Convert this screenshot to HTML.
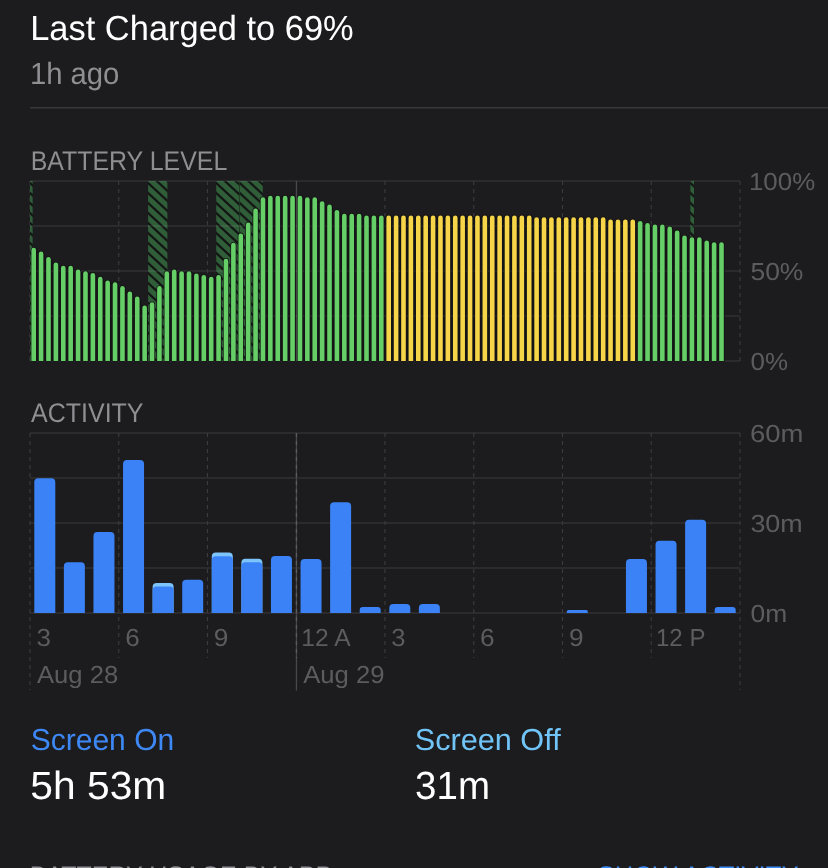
<!DOCTYPE html>
<html><head><meta charset="utf-8"><title>Battery</title>
<style>
html,body{margin:0;padding:0;background:#1c1c1e;}
body{width:828px;height:868px;position:relative;overflow:hidden;font-family:"Liberation Sans",sans-serif;}
svg{position:absolute;left:0;top:0;}
svg text{font-family:"Liberation Sans",sans-serif;white-space:pre;text-rendering:geometricPrecision;}
</style></head><body>
<svg width="828" height="868" viewBox="0 0 828 868">
<defs>
<pattern id="hatch" width="10.8" height="10" patternUnits="userSpaceOnUse" x="0" y="2">
<rect width="10.8" height="10" fill="#2f5e38"/>
<path d="M-5.4 -5L16.2 15M-5.4 5L5.4 15M5.4 -5L16.2 5" stroke="#121313" stroke-width="2.2"/>
</pattern>
</defs>
<rect x="30" y="107" width="798" height="1.5" fill="#38383a"/>
<!-- battery grid -->
<rect x="30" y="180.25" width="710" height="1.5" fill="#303033"/>
<rect x="30" y="225.25" width="710" height="1.5" fill="#303033"/>
<rect x="30" y="270.25" width="710" height="1.5" fill="#303033"/>
<rect x="30" y="315.25" width="710" height="1.5" fill="#303033"/>
<rect x="30" y="360.25" width="710" height="1.5" fill="#303033"/>
<line x1="30.0" y1="181" x2="30.0" y2="361" stroke="#3b3b3f" stroke-width="1.15" stroke-dasharray="4 4"/>
<line x1="118.75" y1="181" x2="118.75" y2="361" stroke="#3b3b3f" stroke-width="1.15" stroke-dasharray="4 4"/>
<line x1="207.5" y1="181" x2="207.5" y2="361" stroke="#3b3b3f" stroke-width="1.15" stroke-dasharray="4 4"/>
<line x1="385.0" y1="181" x2="385.0" y2="361" stroke="#3b3b3f" stroke-width="1.15" stroke-dasharray="4 4"/>
<line x1="473.75" y1="181" x2="473.75" y2="361" stroke="#3b3b3f" stroke-width="1.15" stroke-dasharray="4 4"/>
<line x1="562.5" y1="181" x2="562.5" y2="361" stroke="#3b3b3f" stroke-width="1.15" stroke-dasharray="4 4"/>
<line x1="651.25" y1="181" x2="651.25" y2="361" stroke="#3b3b3f" stroke-width="1.15" stroke-dasharray="4 4"/>
<line x1="740.0" y1="181" x2="740.0" y2="361" stroke="#3b3b3f" stroke-width="1.15" stroke-dasharray="4 4"/>
<path d="M30.50 361 L30.50 248.80 L36.90 248.80 L37.89 252.50 L44.29 252.50 L45.29 258.00 L51.69 258.00 L52.69 263.50 L59.09 263.50 L60.08 266.80 L66.48 266.80 L67.48 266.80 L73.88 266.80 L74.87 270.50 L81.27 270.50 L82.27 272.20 L88.67 272.20 L89.66 274.00 L96.06 274.00 L97.06 277.70 L103.46 277.70 L104.46 281.40 L110.86 281.40 L111.85 283.20 L118.25 283.20 L119.25 286.90 L125.65 286.90 L126.64 292.40 L133.04 292.40 L134.04 297.40 L140.44 297.40 L141.44 306.60 L147.84 306.60 L148.83 303.30 L155.23 303.30 L156.23 287.10 L162.63 287.10 L163.62 272.20 L170.02 272.20 L171.02 270.50 L177.42 270.50 L178.41 272.20 L184.81 272.20 L185.81 272.20 L192.21 272.20 L193.21 274.40 L199.61 274.40 L200.60 276.00 L207.00 276.00 L208.00 277.70 L214.40 277.70 L215.39 276.00 L221.79 276.00 L222.79 259.80 L229.19 259.80 L230.19 243.80 L236.59 243.80 L237.58 234.40 L243.98 234.40 L244.98 223.60 L251.38 223.60 L252.37 209.40 L258.77 209.40 L259.77 198.20 L266.17 198.20 L267.16 196.70 L273.56 196.70 L274.56 196.70 L280.96 196.70 L281.96 196.70 L288.36 196.70 L289.35 196.70 L295.75 196.70 L296.75 196.70 L303.15 196.70 L304.14 198.20 L310.54 198.20 L311.54 198.20 L317.94 198.20 L318.94 202.20 L325.34 202.20 L326.33 205.50 L332.73 205.50 L333.73 210.90 L340.13 210.90 L341.12 214.70 L347.52 214.70 L348.52 214.70 L354.92 214.70 L355.91 214.70 L362.31 214.70 L363.31 216.40 L369.71 216.40 L370.71 216.40 L377.11 216.40 L378.10 216.40 L384.50 216.40 L385.50 216.40 L391.90 216.40 L392.89 216.40 L399.29 216.40 L400.29 216.40 L406.69 216.40 L407.69 216.40 L414.09 216.40 L415.08 216.40 L421.48 216.40 L422.48 216.40 L428.88 216.40 L429.87 216.40 L436.27 216.40 L437.27 216.40 L443.67 216.40 L444.66 216.40 L451.06 216.40 L452.06 216.40 L458.46 216.40 L459.46 216.40 L465.86 216.40 L466.85 216.40 L473.25 216.40 L474.25 216.40 L480.65 216.40 L481.64 216.40 L488.04 216.40 L489.04 216.40 L495.44 216.40 L496.44 216.40 L502.84 216.40 L503.83 216.40 L510.23 216.40 L511.23 216.40 L517.63 216.40 L518.62 216.40 L525.02 216.40 L526.02 216.40 L532.42 216.40 L533.41 218.20 L539.81 218.20 L540.81 218.20 L547.21 218.20 L548.21 218.20 L554.61 218.20 L555.60 218.20 L562.00 218.20 L563.00 218.20 L569.40 218.20 L570.39 218.20 L576.79 218.20 L577.79 218.20 L584.19 218.20 L585.19 218.20 L591.59 218.20 L592.58 218.20 L598.98 218.20 L599.98 218.20 L606.38 218.20 L607.37 220.40 L613.77 220.40 L614.77 220.40 L621.17 220.40 L622.16 220.40 L628.56 220.40 L629.56 220.40 L635.96 220.40 L636.96 222.00 L643.36 222.00 L644.35 224.00 L650.75 224.00 L651.75 225.60 L658.15 225.60 L659.14 225.60 L665.54 225.60 L666.54 227.40 L672.94 227.40 L673.94 231.40 L680.34 231.40 L681.33 236.50 L687.73 236.50 L688.73 238.30 L695.13 238.30 L696.12 238.30 L702.52 238.30 L703.52 241.50 L709.92 241.50 L710.91 243.30 L717.31 243.30 L718.31 243.30 L724.71 243.30 L724.71 361z" fill="#151517"/>
<rect x="295.8" y="181" width="1.3" height="180" fill="#4a4a4d"/>
<!-- charging -->
<g transform="translate(30 181)"><rect width="2.6" height="180" fill="url(#hatch)"/></g>
<g transform="translate(148.1 181)"><rect width="19.3" height="180" fill="url(#hatch)"/></g>
<g transform="translate(216.2 181)"><rect width="23.3" height="180" fill="url(#hatch)"/></g>
<g transform="translate(239.7 181)"><rect width="23.1" height="180" fill="url(#hatch)"/></g>
<rect x="239.3" y="181" width="0.7" height="180" fill="#1d3a23"/>
<g transform="translate(690.4 181)"><rect width="3.6" height="180" fill="url(#hatch)"/></g>
<clipPath id="ov"><path d="M30.50 361 L30.50 248.80 L36.90 248.80 L37.89 252.50 L44.29 252.50 L45.29 258.00 L51.69 258.00 L52.69 263.50 L59.09 263.50 L60.08 266.80 L66.48 266.80 L67.48 266.80 L73.88 266.80 L74.87 270.50 L81.27 270.50 L82.27 272.20 L88.67 272.20 L89.66 274.00 L96.06 274.00 L97.06 277.70 L103.46 277.70 L104.46 281.40 L110.86 281.40 L111.85 283.20 L118.25 283.20 L119.25 286.90 L125.65 286.90 L126.64 292.40 L133.04 292.40 L134.04 297.40 L140.44 297.40 L141.44 306.60 L147.84 306.60 L148.83 303.30 L155.23 303.30 L156.23 287.10 L162.63 287.10 L163.62 272.20 L170.02 272.20 L171.02 270.50 L177.42 270.50 L178.41 272.20 L184.81 272.20 L185.81 272.20 L192.21 272.20 L193.21 274.40 L199.61 274.40 L200.60 276.00 L207.00 276.00 L208.00 277.70 L214.40 277.70 L215.39 276.00 L221.79 276.00 L222.79 259.80 L229.19 259.80 L230.19 243.80 L236.59 243.80 L237.58 234.40 L243.98 234.40 L244.98 223.60 L251.38 223.60 L252.37 209.40 L258.77 209.40 L259.77 198.20 L266.17 198.20 L267.16 196.70 L273.56 196.70 L274.56 196.70 L280.96 196.70 L281.96 196.70 L288.36 196.70 L289.35 196.70 L295.75 196.70 L296.75 196.70 L303.15 196.70 L304.14 198.20 L310.54 198.20 L311.54 198.20 L317.94 198.20 L318.94 202.20 L325.34 202.20 L326.33 205.50 L332.73 205.50 L333.73 210.90 L340.13 210.90 L341.12 214.70 L347.52 214.70 L348.52 214.70 L354.92 214.70 L355.91 214.70 L362.31 214.70 L363.31 216.40 L369.71 216.40 L370.71 216.40 L377.11 216.40 L378.10 216.40 L384.50 216.40 L385.50 216.40 L391.90 216.40 L392.89 216.40 L399.29 216.40 L400.29 216.40 L406.69 216.40 L407.69 216.40 L414.09 216.40 L415.08 216.40 L421.48 216.40 L422.48 216.40 L428.88 216.40 L429.87 216.40 L436.27 216.40 L437.27 216.40 L443.67 216.40 L444.66 216.40 L451.06 216.40 L452.06 216.40 L458.46 216.40 L459.46 216.40 L465.86 216.40 L466.85 216.40 L473.25 216.40 L474.25 216.40 L480.65 216.40 L481.64 216.40 L488.04 216.40 L489.04 216.40 L495.44 216.40 L496.44 216.40 L502.84 216.40 L503.83 216.40 L510.23 216.40 L511.23 216.40 L517.63 216.40 L518.62 216.40 L525.02 216.40 L526.02 216.40 L532.42 216.40 L533.41 218.20 L539.81 218.20 L540.81 218.20 L547.21 218.20 L548.21 218.20 L554.61 218.20 L555.60 218.20 L562.00 218.20 L563.00 218.20 L569.40 218.20 L570.39 218.20 L576.79 218.20 L577.79 218.20 L584.19 218.20 L585.19 218.20 L591.59 218.20 L592.58 218.20 L598.98 218.20 L599.98 218.20 L606.38 218.20 L607.37 220.40 L613.77 220.40 L614.77 220.40 L621.17 220.40 L622.16 220.40 L628.56 220.40 L629.56 220.40 L635.96 220.40 L636.96 222.00 L643.36 222.00 L644.35 224.00 L650.75 224.00 L651.75 225.60 L658.15 225.60 L659.14 225.60 L665.54 225.60 L666.54 227.40 L672.94 227.40 L673.94 231.40 L680.34 231.40 L681.33 236.50 L687.73 236.50 L688.73 238.30 L695.13 238.30 L696.12 238.30 L702.52 238.30 L703.52 241.50 L709.92 241.50 L710.91 243.30 L717.31 243.30 L718.31 243.30 L724.71 243.30 L724.71 361z"/><rect x="30" y="181" width="2.6" height="180"/><rect x="148.1" y="181" width="19.3" height="180"/><rect x="216.2" y="181" width="46.6" height="180"/><rect x="690.4" y="181" width="3.6" height="180"/></clipPath>
<g fill="#ffffff" fill-opacity="0.09" clip-path="url(#ov)"><rect x="30" y="180.25" width="710" height="1.5"/><rect x="30" y="225.25" width="710" height="1.5"/><rect x="30" y="270.25" width="710" height="1.5"/><rect x="30" y="315.25" width="710" height="1.5"/></g>
<g fill="none" stroke="#141416" stroke-width="1.5"><path d="M31.40 361V250.10a2.30 2.30 0 0 1 4.60 0V361z"/>
<path d="M38.79 361V253.80a2.30 2.30 0 0 1 4.60 0V361z"/>
<path d="M46.19 361V259.30a2.30 2.30 0 0 1 4.60 0V361z"/>
<path d="M53.59 361V264.80a2.30 2.30 0 0 1 4.60 0V361z"/>
<path d="M60.98 361V268.10a2.30 2.30 0 0 1 4.60 0V361z"/>
<path d="M68.38 361V268.10a2.30 2.30 0 0 1 4.60 0V361z"/>
<path d="M75.77 361V271.80a2.30 2.30 0 0 1 4.60 0V361z"/>
<path d="M83.17 361V273.50a2.30 2.30 0 0 1 4.60 0V361z"/>
<path d="M90.56 361V275.30a2.30 2.30 0 0 1 4.60 0V361z"/>
<path d="M97.96 361V279.00a2.30 2.30 0 0 1 4.60 0V361z"/>
<path d="M105.36 361V282.70a2.30 2.30 0 0 1 4.60 0V361z"/>
<path d="M112.75 361V284.50a2.30 2.30 0 0 1 4.60 0V361z"/>
<path d="M120.15 361V288.20a2.30 2.30 0 0 1 4.60 0V361z"/>
<path d="M127.54 361V293.70a2.30 2.30 0 0 1 4.60 0V361z"/>
<path d="M134.94 361V298.70a2.30 2.30 0 0 1 4.60 0V361z"/>
<path d="M142.34 361V307.90a2.30 2.30 0 0 1 4.60 0V361z"/>
<path d="M149.73 361V304.60a2.30 2.30 0 0 1 4.60 0V361z"/>
<path d="M157.13 361V288.40a2.30 2.30 0 0 1 4.60 0V361z"/>
<path d="M164.52 361V273.50a2.30 2.30 0 0 1 4.60 0V361z"/>
<path d="M171.92 361V271.80a2.30 2.30 0 0 1 4.60 0V361z"/>
<path d="M179.31 361V273.50a2.30 2.30 0 0 1 4.60 0V361z"/>
<path d="M186.71 361V273.50a2.30 2.30 0 0 1 4.60 0V361z"/>
<path d="M194.11 361V275.70a2.30 2.30 0 0 1 4.60 0V361z"/>
<path d="M201.50 361V277.30a2.30 2.30 0 0 1 4.60 0V361z"/>
<path d="M208.90 361V279.00a2.30 2.30 0 0 1 4.60 0V361z"/>
<path d="M216.29 361V277.30a2.30 2.30 0 0 1 4.60 0V361z"/>
<path d="M223.69 361V261.10a2.30 2.30 0 0 1 4.60 0V361z"/>
<path d="M231.09 361V245.10a2.30 2.30 0 0 1 4.60 0V361z"/>
<path d="M238.48 361V235.70a2.30 2.30 0 0 1 4.60 0V361z"/>
<path d="M245.88 361V224.90a2.30 2.30 0 0 1 4.60 0V361z"/>
<path d="M253.27 361V210.70a2.30 2.30 0 0 1 4.60 0V361z"/>
<path d="M260.67 361V199.50a2.30 2.30 0 0 1 4.60 0V361z"/>
<path d="M268.06 361V198.00a2.30 2.30 0 0 1 4.60 0V361z"/>
<path d="M275.46 361V198.00a2.30 2.30 0 0 1 4.60 0V361z"/>
<path d="M282.86 361V198.00a2.30 2.30 0 0 1 4.60 0V361z"/>
<path d="M290.25 361V198.00a2.30 2.30 0 0 1 4.60 0V361z"/>
<path d="M297.65 361V198.00a2.30 2.30 0 0 1 4.60 0V361z"/>
<path d="M305.04 361V199.50a2.30 2.30 0 0 1 4.60 0V361z"/>
<path d="M312.44 361V199.50a2.30 2.30 0 0 1 4.60 0V361z"/>
<path d="M319.84 361V203.50a2.30 2.30 0 0 1 4.60 0V361z"/>
<path d="M327.23 361V206.80a2.30 2.30 0 0 1 4.60 0V361z"/>
<path d="M334.63 361V212.20a2.30 2.30 0 0 1 4.60 0V361z"/>
<path d="M342.02 361V216.00a2.30 2.30 0 0 1 4.60 0V361z"/>
<path d="M349.42 361V216.00a2.30 2.30 0 0 1 4.60 0V361z"/>
<path d="M356.81 361V216.00a2.30 2.30 0 0 1 4.60 0V361z"/>
<path d="M364.21 361V217.70a2.30 2.30 0 0 1 4.60 0V361z"/>
<path d="M371.61 361V217.70a2.30 2.30 0 0 1 4.60 0V361z"/>
<path d="M379.00 361V217.70a2.30 2.30 0 0 1 4.60 0V361z"/>
<path d="M386.40 361V217.70a2.30 2.30 0 0 1 4.60 0V361z"/>
<path d="M393.79 361V217.70a2.30 2.30 0 0 1 4.60 0V361z"/>
<path d="M401.19 361V217.70a2.30 2.30 0 0 1 4.60 0V361z"/>
<path d="M408.59 361V217.70a2.30 2.30 0 0 1 4.60 0V361z"/>
<path d="M415.98 361V217.70a2.30 2.30 0 0 1 4.60 0V361z"/>
<path d="M423.38 361V217.70a2.30 2.30 0 0 1 4.60 0V361z"/>
<path d="M430.77 361V217.70a2.30 2.30 0 0 1 4.60 0V361z"/>
<path d="M438.17 361V217.70a2.30 2.30 0 0 1 4.60 0V361z"/>
<path d="M445.56 361V217.70a2.30 2.30 0 0 1 4.60 0V361z"/>
<path d="M452.96 361V217.70a2.30 2.30 0 0 1 4.60 0V361z"/>
<path d="M460.36 361V217.70a2.30 2.30 0 0 1 4.60 0V361z"/>
<path d="M467.75 361V217.70a2.30 2.30 0 0 1 4.60 0V361z"/>
<path d="M475.15 361V217.70a2.30 2.30 0 0 1 4.60 0V361z"/>
<path d="M482.54 361V217.70a2.30 2.30 0 0 1 4.60 0V361z"/>
<path d="M489.94 361V217.70a2.30 2.30 0 0 1 4.60 0V361z"/>
<path d="M497.34 361V217.70a2.30 2.30 0 0 1 4.60 0V361z"/>
<path d="M504.73 361V217.70a2.30 2.30 0 0 1 4.60 0V361z"/>
<path d="M512.13 361V217.70a2.30 2.30 0 0 1 4.60 0V361z"/>
<path d="M519.52 361V217.70a2.30 2.30 0 0 1 4.60 0V361z"/>
<path d="M526.92 361V217.70a2.30 2.30 0 0 1 4.60 0V361z"/>
<path d="M534.31 361V219.50a2.30 2.30 0 0 1 4.60 0V361z"/>
<path d="M541.71 361V219.50a2.30 2.30 0 0 1 4.60 0V361z"/>
<path d="M549.11 361V219.50a2.30 2.30 0 0 1 4.60 0V361z"/>
<path d="M556.50 361V219.50a2.30 2.30 0 0 1 4.60 0V361z"/>
<path d="M563.90 361V219.50a2.30 2.30 0 0 1 4.60 0V361z"/>
<path d="M571.29 361V219.50a2.30 2.30 0 0 1 4.60 0V361z"/>
<path d="M578.69 361V219.50a2.30 2.30 0 0 1 4.60 0V361z"/>
<path d="M586.09 361V219.50a2.30 2.30 0 0 1 4.60 0V361z"/>
<path d="M593.48 361V219.50a2.30 2.30 0 0 1 4.60 0V361z"/>
<path d="M600.88 361V219.50a2.30 2.30 0 0 1 4.60 0V361z"/>
<path d="M608.27 361V221.70a2.30 2.30 0 0 1 4.60 0V361z"/>
<path d="M615.67 361V221.70a2.30 2.30 0 0 1 4.60 0V361z"/>
<path d="M623.06 361V221.70a2.30 2.30 0 0 1 4.60 0V361z"/>
<path d="M630.46 361V221.70a2.30 2.30 0 0 1 4.60 0V361z"/>
<path d="M637.86 361V223.30a2.30 2.30 0 0 1 4.60 0V361z"/>
<path d="M645.25 361V225.30a2.30 2.30 0 0 1 4.60 0V361z"/>
<path d="M652.65 361V226.90a2.30 2.30 0 0 1 4.60 0V361z"/>
<path d="M660.04 361V226.90a2.30 2.30 0 0 1 4.60 0V361z"/>
<path d="M667.44 361V228.70a2.30 2.30 0 0 1 4.60 0V361z"/>
<path d="M674.84 361V232.70a2.30 2.30 0 0 1 4.60 0V361z"/>
<path d="M682.23 361V237.80a2.30 2.30 0 0 1 4.60 0V361z"/>
<path d="M689.63 361V239.60a2.30 2.30 0 0 1 4.60 0V361z"/>
<path d="M697.02 361V239.60a2.30 2.30 0 0 1 4.60 0V361z"/>
<path d="M704.42 361V242.80a2.30 2.30 0 0 1 4.60 0V361z"/>
<path d="M711.81 361V244.60a2.30 2.30 0 0 1 4.60 0V361z"/>
<path d="M719.21 361V244.60a2.30 2.30 0 0 1 4.60 0V361z"/></g>
<path d="M31.40 361V250.10a2.30 2.30 0 0 1 4.60 0V361z" fill="#65ce66"/>
<path d="M38.79 361V253.80a2.30 2.30 0 0 1 4.60 0V361z" fill="#65ce66"/>
<path d="M46.19 361V259.30a2.30 2.30 0 0 1 4.60 0V361z" fill="#65ce66"/>
<path d="M53.59 361V264.80a2.30 2.30 0 0 1 4.60 0V361z" fill="#65ce66"/>
<path d="M60.98 361V268.10a2.30 2.30 0 0 1 4.60 0V361z" fill="#65ce66"/>
<path d="M68.38 361V268.10a2.30 2.30 0 0 1 4.60 0V361z" fill="#65ce66"/>
<path d="M75.77 361V271.80a2.30 2.30 0 0 1 4.60 0V361z" fill="#65ce66"/>
<path d="M83.17 361V273.50a2.30 2.30 0 0 1 4.60 0V361z" fill="#65ce66"/>
<path d="M90.56 361V275.30a2.30 2.30 0 0 1 4.60 0V361z" fill="#65ce66"/>
<path d="M97.96 361V279.00a2.30 2.30 0 0 1 4.60 0V361z" fill="#65ce66"/>
<path d="M105.36 361V282.70a2.30 2.30 0 0 1 4.60 0V361z" fill="#65ce66"/>
<path d="M112.75 361V284.50a2.30 2.30 0 0 1 4.60 0V361z" fill="#65ce66"/>
<path d="M120.15 361V288.20a2.30 2.30 0 0 1 4.60 0V361z" fill="#65ce66"/>
<path d="M127.54 361V293.70a2.30 2.30 0 0 1 4.60 0V361z" fill="#65ce66"/>
<path d="M134.94 361V298.70a2.30 2.30 0 0 1 4.60 0V361z" fill="#65ce66"/>
<path d="M142.34 361V307.90a2.30 2.30 0 0 1 4.60 0V361z" fill="#65ce66"/>
<path d="M149.73 361V304.60a2.30 2.30 0 0 1 4.60 0V361z" fill="#65ce66"/>
<path d="M157.13 361V288.40a2.30 2.30 0 0 1 4.60 0V361z" fill="#65ce66"/>
<path d="M164.52 361V273.50a2.30 2.30 0 0 1 4.60 0V361z" fill="#65ce66"/>
<path d="M171.92 361V271.80a2.30 2.30 0 0 1 4.60 0V361z" fill="#65ce66"/>
<path d="M179.31 361V273.50a2.30 2.30 0 0 1 4.60 0V361z" fill="#65ce66"/>
<path d="M186.71 361V273.50a2.30 2.30 0 0 1 4.60 0V361z" fill="#65ce66"/>
<path d="M194.11 361V275.70a2.30 2.30 0 0 1 4.60 0V361z" fill="#65ce66"/>
<path d="M201.50 361V277.30a2.30 2.30 0 0 1 4.60 0V361z" fill="#65ce66"/>
<path d="M208.90 361V279.00a2.30 2.30 0 0 1 4.60 0V361z" fill="#65ce66"/>
<path d="M216.29 361V277.30a2.30 2.30 0 0 1 4.60 0V361z" fill="#65ce66"/>
<path d="M223.69 361V261.10a2.30 2.30 0 0 1 4.60 0V361z" fill="#65ce66"/>
<path d="M231.09 361V245.10a2.30 2.30 0 0 1 4.60 0V361z" fill="#65ce66"/>
<path d="M238.48 361V235.70a2.30 2.30 0 0 1 4.60 0V361z" fill="#65ce66"/>
<path d="M245.88 361V224.90a2.30 2.30 0 0 1 4.60 0V361z" fill="#65ce66"/>
<path d="M253.27 361V210.70a2.30 2.30 0 0 1 4.60 0V361z" fill="#65ce66"/>
<path d="M260.67 361V199.50a2.30 2.30 0 0 1 4.60 0V361z" fill="#65ce66"/>
<path d="M268.06 361V198.00a2.30 2.30 0 0 1 4.60 0V361z" fill="#65ce66"/>
<path d="M275.46 361V198.00a2.30 2.30 0 0 1 4.60 0V361z" fill="#65ce66"/>
<path d="M282.86 361V198.00a2.30 2.30 0 0 1 4.60 0V361z" fill="#65ce66"/>
<path d="M290.25 361V198.00a2.30 2.30 0 0 1 4.60 0V361z" fill="#65ce66"/>
<path d="M297.65 361V198.00a2.30 2.30 0 0 1 4.60 0V361z" fill="#65ce66"/>
<path d="M305.04 361V199.50a2.30 2.30 0 0 1 4.60 0V361z" fill="#65ce66"/>
<path d="M312.44 361V199.50a2.30 2.30 0 0 1 4.60 0V361z" fill="#65ce66"/>
<path d="M319.84 361V203.50a2.30 2.30 0 0 1 4.60 0V361z" fill="#65ce66"/>
<path d="M327.23 361V206.80a2.30 2.30 0 0 1 4.60 0V361z" fill="#65ce66"/>
<path d="M334.63 361V212.20a2.30 2.30 0 0 1 4.60 0V361z" fill="#65ce66"/>
<path d="M342.02 361V216.00a2.30 2.30 0 0 1 4.60 0V361z" fill="#65ce66"/>
<path d="M349.42 361V216.00a2.30 2.30 0 0 1 4.60 0V361z" fill="#65ce66"/>
<path d="M356.81 361V216.00a2.30 2.30 0 0 1 4.60 0V361z" fill="#65ce66"/>
<path d="M364.21 361V217.70a2.30 2.30 0 0 1 4.60 0V361z" fill="#65ce66"/>
<path d="M371.61 361V217.70a2.30 2.30 0 0 1 4.60 0V361z" fill="#65ce66"/>
<path d="M379.00 361V217.70a2.30 2.30 0 0 1 4.60 0V361z" fill="#65ce66"/>
<path d="M386.40 361V217.70a2.30 2.30 0 0 1 4.60 0V361z" fill="#f7d548"/>
<path d="M393.79 361V217.70a2.30 2.30 0 0 1 4.60 0V361z" fill="#f7d548"/>
<path d="M401.19 361V217.70a2.30 2.30 0 0 1 4.60 0V361z" fill="#f7d548"/>
<path d="M408.59 361V217.70a2.30 2.30 0 0 1 4.60 0V361z" fill="#f7d548"/>
<path d="M415.98 361V217.70a2.30 2.30 0 0 1 4.60 0V361z" fill="#f7d548"/>
<path d="M423.38 361V217.70a2.30 2.30 0 0 1 4.60 0V361z" fill="#f7d548"/>
<path d="M430.77 361V217.70a2.30 2.30 0 0 1 4.60 0V361z" fill="#f7d548"/>
<path d="M438.17 361V217.70a2.30 2.30 0 0 1 4.60 0V361z" fill="#f7d548"/>
<path d="M445.56 361V217.70a2.30 2.30 0 0 1 4.60 0V361z" fill="#f7d548"/>
<path d="M452.96 361V217.70a2.30 2.30 0 0 1 4.60 0V361z" fill="#f7d548"/>
<path d="M460.36 361V217.70a2.30 2.30 0 0 1 4.60 0V361z" fill="#f7d548"/>
<path d="M467.75 361V217.70a2.30 2.30 0 0 1 4.60 0V361z" fill="#f7d548"/>
<path d="M475.15 361V217.70a2.30 2.30 0 0 1 4.60 0V361z" fill="#f7d548"/>
<path d="M482.54 361V217.70a2.30 2.30 0 0 1 4.60 0V361z" fill="#f7d548"/>
<path d="M489.94 361V217.70a2.30 2.30 0 0 1 4.60 0V361z" fill="#f7d548"/>
<path d="M497.34 361V217.70a2.30 2.30 0 0 1 4.60 0V361z" fill="#f7d548"/>
<path d="M504.73 361V217.70a2.30 2.30 0 0 1 4.60 0V361z" fill="#f7d548"/>
<path d="M512.13 361V217.70a2.30 2.30 0 0 1 4.60 0V361z" fill="#f7d548"/>
<path d="M519.52 361V217.70a2.30 2.30 0 0 1 4.60 0V361z" fill="#f7d548"/>
<path d="M526.92 361V217.70a2.30 2.30 0 0 1 4.60 0V361z" fill="#f7d548"/>
<path d="M534.31 361V219.50a2.30 2.30 0 0 1 4.60 0V361z" fill="#f7d548"/>
<path d="M541.71 361V219.50a2.30 2.30 0 0 1 4.60 0V361z" fill="#f7d548"/>
<path d="M549.11 361V219.50a2.30 2.30 0 0 1 4.60 0V361z" fill="#f7d548"/>
<path d="M556.50 361V219.50a2.30 2.30 0 0 1 4.60 0V361z" fill="#f7d548"/>
<path d="M563.90 361V219.50a2.30 2.30 0 0 1 4.60 0V361z" fill="#f7d548"/>
<path d="M571.29 361V219.50a2.30 2.30 0 0 1 4.60 0V361z" fill="#f7d548"/>
<path d="M578.69 361V219.50a2.30 2.30 0 0 1 4.60 0V361z" fill="#f7d548"/>
<path d="M586.09 361V219.50a2.30 2.30 0 0 1 4.60 0V361z" fill="#f7d548"/>
<path d="M593.48 361V219.50a2.30 2.30 0 0 1 4.60 0V361z" fill="#f7d548"/>
<path d="M600.88 361V219.50a2.30 2.30 0 0 1 4.60 0V361z" fill="#f7d548"/>
<path d="M608.27 361V221.70a2.30 2.30 0 0 1 4.60 0V361z" fill="#f7d548"/>
<path d="M615.67 361V221.70a2.30 2.30 0 0 1 4.60 0V361z" fill="#f7d548"/>
<path d="M623.06 361V221.70a2.30 2.30 0 0 1 4.60 0V361z" fill="#f7d548"/>
<path d="M630.46 361V221.70a2.30 2.30 0 0 1 4.60 0V361z" fill="#f7d548"/>
<path d="M637.86 361V223.30a2.30 2.30 0 0 1 4.60 0V361z" fill="#65ce66"/>
<path d="M645.25 361V225.30a2.30 2.30 0 0 1 4.60 0V361z" fill="#65ce66"/>
<path d="M652.65 361V226.90a2.30 2.30 0 0 1 4.60 0V361z" fill="#65ce66"/>
<path d="M660.04 361V226.90a2.30 2.30 0 0 1 4.60 0V361z" fill="#65ce66"/>
<path d="M667.44 361V228.70a2.30 2.30 0 0 1 4.60 0V361z" fill="#65ce66"/>
<path d="M674.84 361V232.70a2.30 2.30 0 0 1 4.60 0V361z" fill="#65ce66"/>
<path d="M682.23 361V237.80a2.30 2.30 0 0 1 4.60 0V361z" fill="#65ce66"/>
<path d="M689.63 361V239.60a2.30 2.30 0 0 1 4.60 0V361z" fill="#65ce66"/>
<path d="M697.02 361V239.60a2.30 2.30 0 0 1 4.60 0V361z" fill="#65ce66"/>
<path d="M704.42 361V242.80a2.30 2.30 0 0 1 4.60 0V361z" fill="#65ce66"/>
<path d="M711.81 361V244.60a2.30 2.30 0 0 1 4.60 0V361z" fill="#65ce66"/>
<path d="M719.21 361V244.60a2.30 2.30 0 0 1 4.60 0V361z" fill="#65ce66"/>
<!-- activity grid -->
<rect x="30" y="432.25" width="710" height="1.5" fill="#303033"/>
<rect x="30" y="477.25" width="710" height="1.5" fill="#303033"/>
<rect x="30" y="522.25" width="710" height="1.5" fill="#303033"/>
<rect x="30" y="567.25" width="710" height="1.5" fill="#303033"/>
<rect x="30" y="612.25" width="710" height="1.5" fill="#303033"/>
<line x1="118.75" y1="433" x2="118.75" y2="658" stroke="#3b3b3f" stroke-width="1.15" stroke-dasharray="4 4"/>
<line x1="207.5" y1="433" x2="207.5" y2="658" stroke="#3b3b3f" stroke-width="1.15" stroke-dasharray="4 4"/>
<line x1="385.0" y1="433" x2="385.0" y2="658" stroke="#3b3b3f" stroke-width="1.15" stroke-dasharray="4 4"/>
<line x1="473.75" y1="433" x2="473.75" y2="658" stroke="#3b3b3f" stroke-width="1.15" stroke-dasharray="4 4"/>
<line x1="562.5" y1="433" x2="562.5" y2="658" stroke="#3b3b3f" stroke-width="1.15" stroke-dasharray="4 4"/>
<line x1="651.25" y1="433" x2="651.25" y2="658" stroke="#3b3b3f" stroke-width="1.15" stroke-dasharray="4 4"/>
<line x1="30" y1="433" x2="30" y2="690" stroke="#3b3b3f" stroke-width="1.15" stroke-dasharray="4 4"/>
<line x1="740" y1="433" x2="740" y2="690" stroke="#3b3b3f" stroke-width="1.15" stroke-dasharray="4 4"/>
<rect x="295.8" y="433" width="1.3" height="257.5" fill="#48484c"/>
<line x1="296.45" y1="433" x2="296.45" y2="658" stroke="#5c5c60" stroke-width="1.3" stroke-dasharray="4 4"/>
<path d="M34.29 613V482.30a4.0 4.0 0 0 1 4.0 -4.0H51.29a4.0 4.0 0 0 1 4.0 4.0V613z" fill="#3b82f6"/>
<path d="M63.88 613V566.30a4.0 4.0 0 0 1 4.0 -4.0H80.88a4.0 4.0 0 0 1 4.0 4.0V613z" fill="#3b82f6"/>
<path d="M93.46 613V536.00a4.0 4.0 0 0 1 4.0 -4.0H110.46a4.0 4.0 0 0 1 4.0 4.0V613z" fill="#3b82f6"/>
<path d="M123.04 613V464.00a4.0 4.0 0 0 1 4.0 -4.0H140.04a4.0 4.0 0 0 1 4.0 4.0V613z" fill="#3b82f6"/>
<path d="M152.62 613V586.90a4.0 4.0 0 0 1 4.0 -4.0H169.62a4.0 4.0 0 0 1 4.0 4.0V613z" fill="#7cc4fa"/>
<path d="M152.62 613V590.40a4.0 4.0 0 0 1 4.0 -4.0H169.62a4.0 4.0 0 0 1 4.0 4.0V613z" fill="#3b82f6"/>
<path d="M182.21 613V583.70a4.0 4.0 0 0 1 4.0 -4.0H199.21a4.0 4.0 0 0 1 4.0 4.0V613z" fill="#3b82f6"/>
<path d="M211.79 613V556.60a4.0 4.0 0 0 1 4.0 -4.0H228.79a4.0 4.0 0 0 1 4.0 4.0V613z" fill="#7cc4fa"/>
<path d="M211.79 613V560.30a4.0 4.0 0 0 1 4.0 -4.0H228.79a4.0 4.0 0 0 1 4.0 4.0V613z" fill="#3b82f6"/>
<path d="M241.38 613V562.70a4.0 4.0 0 0 1 4.0 -4.0H258.38a4.0 4.0 0 0 1 4.0 4.0V613z" fill="#7cc4fa"/>
<path d="M241.38 613V566.20a4.0 4.0 0 0 1 4.0 -4.0H258.38a4.0 4.0 0 0 1 4.0 4.0V613z" fill="#3b82f6"/>
<path d="M270.96 613V559.90a4.0 4.0 0 0 1 4.0 -4.0H287.96a4.0 4.0 0 0 1 4.0 4.0V613z" fill="#3b82f6"/>
<path d="M300.54 613V563.10a4.0 4.0 0 0 1 4.0 -4.0H317.54a4.0 4.0 0 0 1 4.0 4.0V613z" fill="#3b82f6"/>
<path d="M330.12 613V506.20a4.0 4.0 0 0 1 4.0 -4.0H347.12a4.0 4.0 0 0 1 4.0 4.0V613z" fill="#3b82f6"/>
<path d="M359.71 613V609.95a3.0500000000000114 3.0500000000000114 0 0 1 3.0500000000000114 -3.0500000000000114H377.66a3.0500000000000114 3.0500000000000114 0 0 1 3.0500000000000114 3.0500000000000114V613z" fill="#3b82f6"/>
<path d="M389.29 613V608.10a4.0 4.0 0 0 1 4.0 -4.0H406.29a4.0 4.0 0 0 1 4.0 4.0V613z" fill="#3b82f6"/>
<path d="M418.88 613V608.10a4.0 4.0 0 0 1 4.0 -4.0H435.88a4.0 4.0 0 0 1 4.0 4.0V613z" fill="#3b82f6"/>
<path d="M566.79 613V611.50a1.5 1.5 0 0 1 1.5 -1.5H586.29a1.5 1.5 0 0 1 1.5 1.5V613z" fill="#3b82f6"/>
<path d="M625.96 613V563.10a4.0 4.0 0 0 1 4.0 -4.0H642.96a4.0 4.0 0 0 1 4.0 4.0V613z" fill="#3b82f6"/>
<path d="M655.54 613V544.80a4.0 4.0 0 0 1 4.0 -4.0H672.54a4.0 4.0 0 0 1 4.0 4.0V613z" fill="#3b82f6"/>
<path d="M685.12 613V523.70a4.0 4.0 0 0 1 4.0 -4.0H702.12a4.0 4.0 0 0 1 4.0 4.0V613z" fill="#3b82f6"/>
<path d="M714.71 613V609.95a3.0500000000000114 3.0500000000000114 0 0 1 3.0500000000000114 -3.0500000000000114H732.66a3.0500000000000114 3.0500000000000114 0 0 1 3.0500000000000114 3.0500000000000114V613z" fill="#3b82f6"/>
<text id="t1" x="30.22" y="40" font-size="34.8" fill="#fff" textLength="323.49" lengthAdjust="spacingAndGlyphs">Last Charged to 69%</text>
<text id="t2" x="29.89" y="83.6" font-size="30.7" fill="#8e8e93" textLength="89.54" lengthAdjust="spacingAndGlyphs">1h ago</text>
<text id="t3" x="30.65" y="169.7" font-size="27.0" fill="#8e8e93" textLength="196.61" lengthAdjust="spacingAndGlyphs">BATTERY LEVEL</text>
<text id="t4" x="31.10" y="421.7" font-size="27.0" fill="#8e8e93" textLength="112.38" lengthAdjust="spacingAndGlyphs">ACTIVITY</text>
<text id="t5" x="30.71" y="750.4" font-size="30.3" fill="#3d88f5" textLength="143.50" lengthAdjust="spacingAndGlyphs">Screen On</text>
<text id="t6" x="30.33" y="798.7" font-size="39.3" fill="#fff" textLength="135.92" lengthAdjust="spacingAndGlyphs">5h 53m</text>
<text id="t7" x="414.69" y="750.4" font-size="30.3" fill="#70c4f7" textLength="146.00" lengthAdjust="spacingAndGlyphs">Screen Off</text>
<text id="t8" x="415.12" y="798.7" font-size="39.3" fill="#fff" textLength="74.88" lengthAdjust="spacingAndGlyphs">31m</text>
<text id="t9" x="29.65" y="884.6" font-size="27.0" fill="#8e8e93" textLength="302.60" lengthAdjust="spacingAndGlyphs">BATTERY USAGE BY APP</text>
<text id="t10" x="597.55" y="884.8" font-size="27.0" fill="#3d8af5" textLength="200.95" lengthAdjust="spacingAndGlyphs">SHOW ACTIVITY</text>
<text id="a1" x="748.98" y="189.9" font-size="24.6" fill="#5c5c60" textLength="66.18" lengthAdjust="spacingAndGlyphs">100%</text>
<text id="a2" x="750.42" y="280.1" font-size="24.6" fill="#5c5c60" textLength="53.03" lengthAdjust="spacingAndGlyphs">50%</text>
<text id="a3" x="750.48" y="370" font-size="24.6" fill="#5c5c60" textLength="37.49" lengthAdjust="spacingAndGlyphs">0%</text>
<text id="a4" x="749.98" y="441.9" font-size="24.6" fill="#5c5c60" textLength="53.50" lengthAdjust="spacingAndGlyphs">60m</text>
<text id="a5" x="750.41" y="532.1" font-size="24.6" fill="#5c5c60" textLength="52.33" lengthAdjust="spacingAndGlyphs">30m</text>
<text id="a6" x="750.46" y="622" font-size="24.6" fill="#5c5c60" textLength="36.69" lengthAdjust="spacingAndGlyphs">0m</text>
<text id="x1" x="36.55" y="645.9" font-size="24.6" fill="#5c5c60" textLength="14.48" lengthAdjust="spacingAndGlyphs">3</text>
<text id="x2" x="125.34" y="645.9" font-size="24.6" fill="#5c5c60" textLength="14.49" lengthAdjust="spacingAndGlyphs">6</text>
<text id="x3" x="213.73" y="645.9" font-size="24.6" fill="#5c5c60" textLength="14.60" lengthAdjust="spacingAndGlyphs">9</text>
<text id="x4" x="301.37" y="645.9" font-size="24.6" fill="#5c5c60" textLength="49.26" lengthAdjust="spacingAndGlyphs">12 A</text>
<text id="x5" x="391.37" y="645.9" font-size="24.6" fill="#5c5c60" textLength="14.25" lengthAdjust="spacingAndGlyphs">3</text>
<text id="x6" x="479.93" y="645.9" font-size="24.6" fill="#5c5c60" textLength="14.60" lengthAdjust="spacingAndGlyphs">6</text>
<text id="x7" x="568.93" y="645.9" font-size="24.6" fill="#5c5c60" textLength="14.60" lengthAdjust="spacingAndGlyphs">9</text>
<text id="x8" x="656.02" y="645.9" font-size="24.6" fill="#5c5c60" textLength="49.39" lengthAdjust="spacingAndGlyphs">12 P</text>
<text id="d1" x="37.00" y="682.6" font-size="24.6" fill="#5c5c60" textLength="81.29" lengthAdjust="spacingAndGlyphs">Aug 28</text>
<text id="d2" x="303.20" y="682.6" font-size="24.6" fill="#5c5c60" textLength="81.29" lengthAdjust="spacingAndGlyphs">Aug 29</text>
</svg>
</body></html>
